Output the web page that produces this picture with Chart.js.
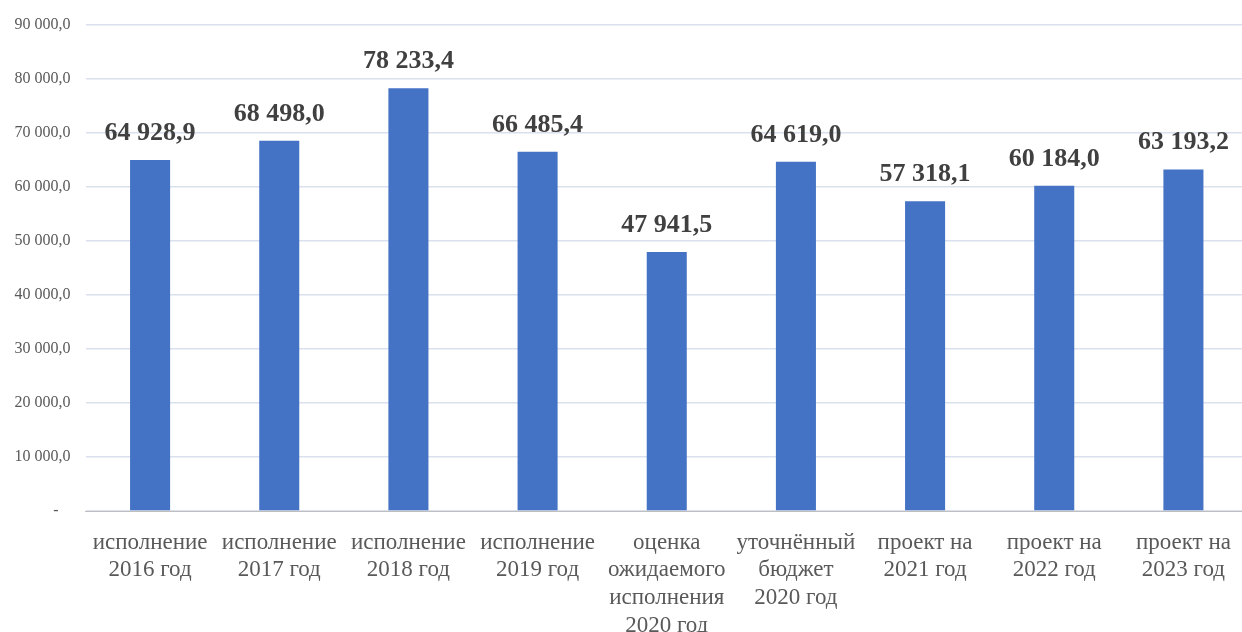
<!DOCTYPE html>
<html>
<head>
<meta charset="utf-8">
<script src="https://cdn.jsdelivr.net/npm/chart.js@4/dist/chart.umd.min.js"></script>
<style>
html,body{margin:0;padding:0;background:#fff;overflow:hidden;width:1242px;height:632px;}
#wrap{position:absolute;left:0;top:0;width:1250px;height:632px;}
</style>
</head>
<body>
<div id="wrap"><canvas id="c"></canvas></div>
<script>
const categories = [
  ["исполнение","2016 год"],
  ["исполнение","2017 год"],
  ["исполнение","2018 год"],
  ["исполнение","2019 год"],
  ["оценка","ожидаемого","исполнения","2020 год"],
  ["уточнённый","бюджет","2020 год"],
  ["проект на","2021 год"],
  ["проект на","2022 год"],
  ["проект на","2023 год"]
];
const values = [64928.9, 68498.0, 78233.4, 66485.4, 47941.5, 64619.0, 57318.1, 60184.0, 63193.2];
const yMin = 0, yMax = 90000, yStep = 10000;

function fmt(v){
  const s = v.toFixed(1);
  const [i,d] = s.split('.');
  return i.replace(/\B(?=(\d{3})+(?!\d))/g,' ') + ',' + d;
}

const labelPlugin = {
  id:'dataLabels',
  afterDatasetsDraw(chart){
    const ctx = chart.ctx;
    const meta = chart.getDatasetMeta(0);
    ctx.save();
    ctx.font = 'bold 26px "Liberation Serif", "Times New Roman", serif';
    ctx.fillStyle = '#404040';
    ctx.textAlign = 'center';
    ctx.textBaseline = 'alphabetic';
    meta.data.forEach((bar,i)=>{
      ctx.fillText(fmt(values[i]), bar.x, bar.y - 20);
    });
    ctx.restore();
  }
};

new Chart(document.getElementById('c'), {
  type:'bar',
  data:{
    labels: categories,
    datasets:[{
      data: values,
      backgroundColor:'#4472C4',
      borderWidth:0,
      categoryPercentage:1.0,
      barPercentage:0.31
    }]
  },
  options:{
    responsive:true,
    maintainAspectRatio:false,
    animation:false,
    layout:{padding:{top:12,right:2,left:0,bottom:0}},
    plugins:{legend:{display:false},tooltip:{enabled:false}},
    scales:{
      x:{
        grid:{display:false,drawTicks:false},
        border:{display:true,color:'#bfbfbf',width:1},
        ticks:{
          color:'#595959',
          font:{family:'"Liberation Serif", "Times New Roman", serif',size:23,lineHeight:1.2},
          padding:18,
          maxRotation:0,autoSkip:false
        },
        afterFit(s){ s.height = 121; }
      },
      y:{
        min:yMin,max:yMax,
        grid:{color:'#d9e1ee',lineWidth:1.5,drawTicks:false},
        border:{display:false},
        ticks:{
          stepSize:yStep,
          color:'#595959',
          font:{family:'"Liberation Serif", "Times New Roman", serif',size:16},
          padding:15,
          callback:(v)=> v===0 ? '-   ' : fmt(v)
        },
        afterFit(s){ s.width = 85.5; }
      }
    }
  },
  plugins:[labelPlugin]
});
</script>
</body>
</html>
